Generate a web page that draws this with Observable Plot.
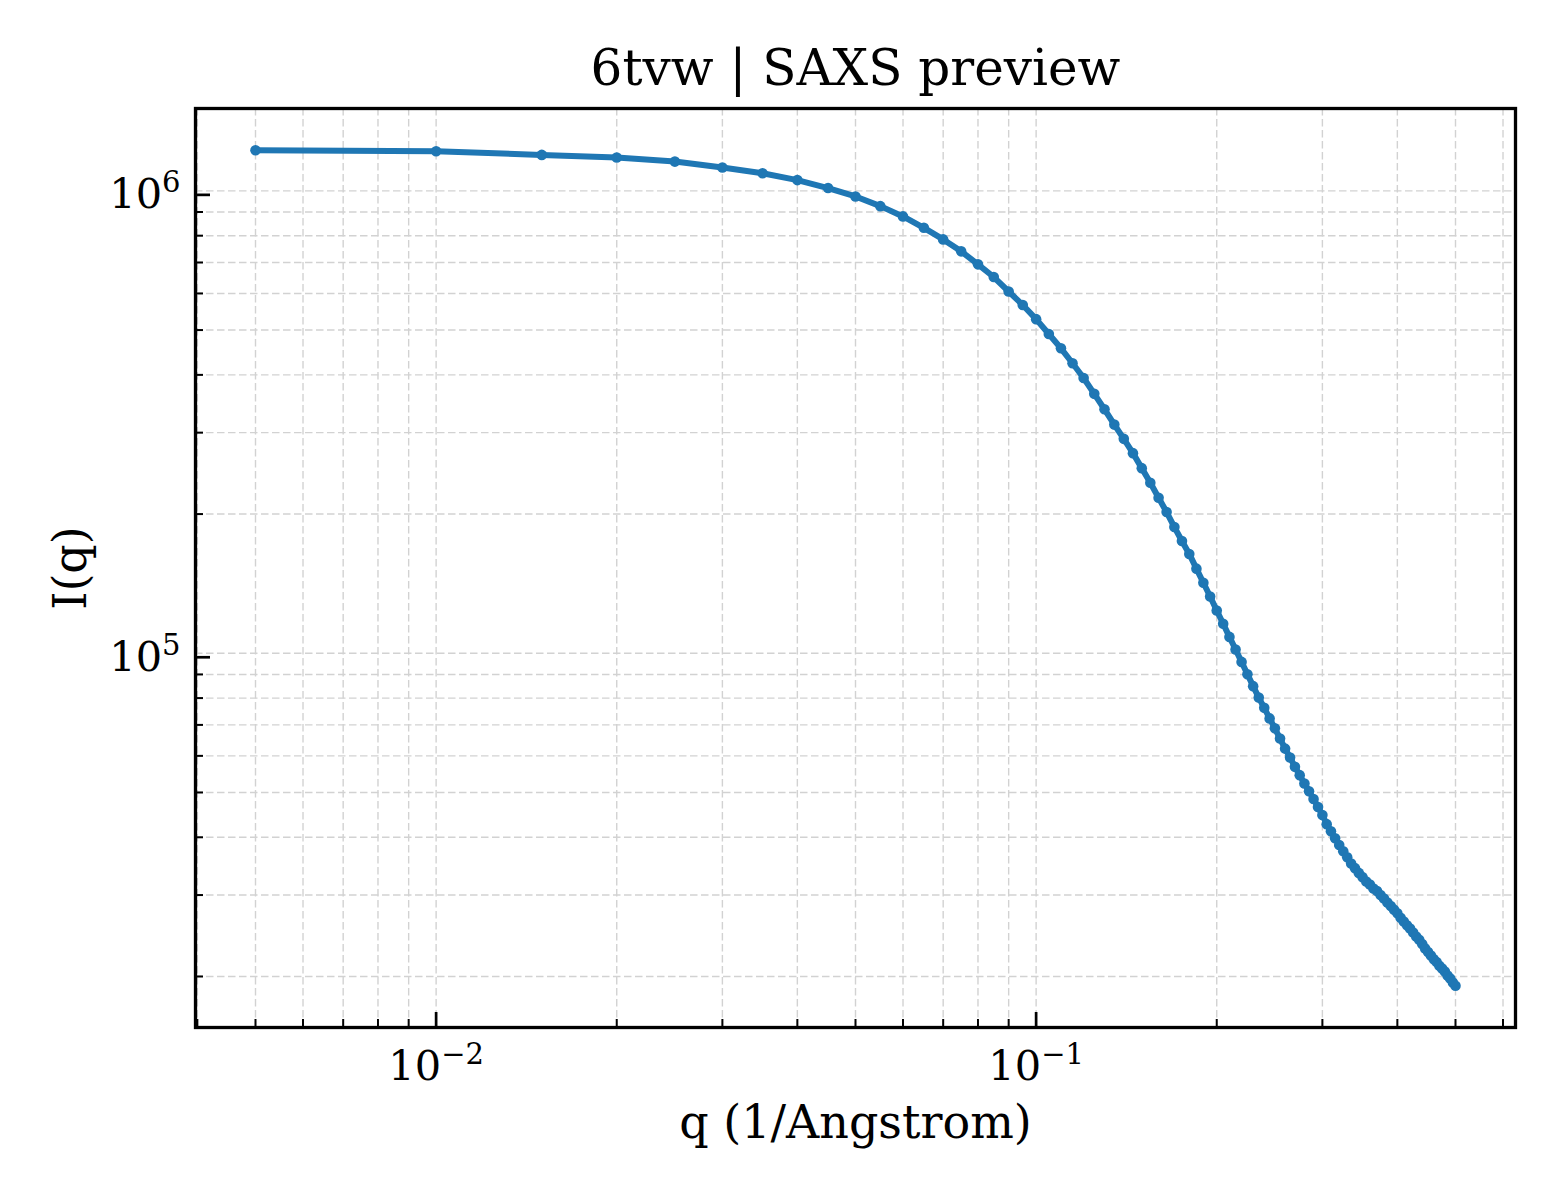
<!DOCTYPE html>
<html>
<head>
<meta charset="utf-8">
<script src="https://cdn.jsdelivr.net/npm/d3@7"></script>
<script src="https://cdn.jsdelivr.net/npm/@observablehq/plot@0.6"></script>
<style>
  html, body { margin: 0; padding: 0; background: #ffffff; }
  #chart { width: 1560px; height: 1200px; }
</style>
</head>
<body>
<div id="chart"></div>
<script>
const title = "6tvw | SAXS preview";
const xLabel = "q (1/Angstrom)";
const yLabel = "I(q)";

const q = [
  0.005, 0.010, 0.015, 0.020, 0.025, 0.030, 0.035, 0.040, 0.045, 0.050,
  0.055, 0.060, 0.065, 0.070, 0.075, 0.080, 0.085, 0.090, 0.095, 0.100,
  0.105, 0.110, 0.115, 0.120, 0.125, 0.130, 0.135, 0.140, 0.145, 0.150,
  0.155, 0.160, 0.165, 0.170, 0.175, 0.180, 0.185, 0.190, 0.195, 0.200,
  0.205, 0.210, 0.215, 0.220, 0.225, 0.230, 0.235, 0.240, 0.245, 0.250,
  0.255, 0.260, 0.265, 0.270, 0.275, 0.280, 0.285, 0.290, 0.295, 0.300,
  0.305, 0.310, 0.315, 0.320, 0.325, 0.330, 0.335, 0.340, 0.345, 0.350,
  0.355, 0.360, 0.365, 0.370, 0.375, 0.380, 0.385, 0.390, 0.395, 0.400,
  0.405, 0.410, 0.415, 0.420, 0.425, 0.430, 0.435, 0.440, 0.445, 0.450,
  0.455, 0.460, 0.465, 0.470, 0.475, 0.480, 0.485, 0.490, 0.495, 0.500
];

const intensity = [
  1224000, 1218000, 1196000, 1181000, 1157000, 1123000, 1092000, 1055000, 1014000, 972500,
  926800, 880600, 831900, 785300, 739900, 693500, 651100, 605800, 566400, 527900,
  490400, 456600, 423800, 393900, 363900, 337100, 312300, 290900, 270900, 251400,
  233700, 216900, 202000, 187500, 174900, 164000, 152400, 142100, 132700, 123700,
  115800, 108500, 101900, 95800, 90100, 84900, 80200, 76200, 72300, 68800,
  65400, 62200, 59500, 56800, 54500, 52300, 50300, 48400, 46500, 44700,
  42700, 41200, 39800, 38500, 37300, 36200, 35100, 34300, 33500, 32800,
  32100, 31600, 31000, 30600, 30000, 29500, 28900, 28400, 27900, 27400,
  26800, 26300, 25800, 25400, 24900, 24400, 24000, 23500, 23000, 22600,
  22200, 21800, 21500, 21100, 20800, 20500, 20100, 19800, 19400, 19100
];

const xMajorTicks = [0.01, 0.1];
const xTickLabels = ["10^\u22122", "10^\u22121"];
const yMajorTicks = [1e5, 1e6];
const yTickLabels = ["10^5", "10^6"];

const data = q.map((v, i) => ({q: v, I: intensity[i]}));

function logPadDomain(values, frac) {
  const [a, b] = d3.extent(values).map(Math.log10);
  const p = (b - a) * frac;
  return [Math.pow(10, a - p), Math.pow(10, b + p)];
}
const xDomain = logPadDomain(q, 0.05);
const yDomain = logPadDomain(intensity, 0.05);

const xGrid = d3.scaleLog().domain(xDomain).ticks();
const yGrid = d3.scaleLog().domain(yDomain).ticks();
const isMajor = (v) => Math.abs(Math.log10(v) - Math.round(Math.log10(v))) < 1e-9;
const xMinor = xGrid.filter(v => !isMajor(v));
const yMinor = yGrid.filter(v => !isMajor(v));

const blue = "#1f77b4";
const gridStyle = {stroke: "#d2d2d2", strokeWidth: 1.4, strokeDasharray: "7.5,3.5"};

const chart = Plot.plot({
  width: 1560,
  height: 1200,
  marginLeft: 195,
  marginRight: 45,
  marginTop: 108,
  marginBottom: 173,
  style: {fontFamily: "'DejaVu Serif', serif", background: "#ffffff", color: "#000000"},
  x: {type: "log", domain: xDomain, label: null},
  y: {type: "log", domain: yDomain, label: null},
  marks: [
    Plot.ruleX(xGrid, gridStyle),
    Plot.ruleY(yGrid, gridStyle),
    Plot.line(data, {x: "q", y: "I", stroke: blue, strokeWidth: 6}),
    Plot.dot(data, {x: "q", y: "I", r: 5.3, fill: blue, stroke: "none"}),
    Plot.axisX(xMinor, {anchor: "bottom", tickSize: -8, strokeWidth: 2, tickFormat: () => "", label: null}),
    Plot.axisX(xMajorTicks, {anchor: "bottom", tickSize: -15, tickPadding: 38, strokeWidth: 2.7,
      tickFormat: d => xTickLabels[xMajorTicks.indexOf(d)], fontSize: 41.5, label: null}),
    Plot.axisY(yMinor, {anchor: "left", tickSize: -8, strokeWidth: 2, tickFormat: () => "", label: null}),
    Plot.axisY(yMajorTicks, {anchor: "left", tickSize: -15, tickPadding: 30, strokeWidth: 2.7, dy: 4,
      tickFormat: d => yTickLabels[yMajorTicks.indexOf(d)], fontSize: 41.5, label: null}),
    Plot.frame({stroke: "#000000", strokeWidth: 3.3}),
    Plot.text([title], {text: d => d, frameAnchor: "top", dy: -40, fontSize: 50, lineAnchor: "middle", textAnchor: "middle"}),
    Plot.text([xLabel], {text: d => d, frameAnchor: "bottom", dy: 96, fontSize: 46, lineAnchor: "middle", textAnchor: "middle"}),
    Plot.text([yLabel], {text: d => d, frameAnchor: "left", dx: -124, rotate: -90, fontSize: 46, lineAnchor: "middle", textAnchor: "middle"})
  ]
});

// render exponents as superscripts
d3.select(chart).selectAll("text").each(function() {
  const t = this.textContent;
  const m = t.match(/^([^\^]*)\^(.+)$/);
  if (!m) return;
  const sel = d3.select(this);
  sel.text(null);
  sel.append("tspan").text(m[1]);
  sel.append("tspan").attr("dy", -16).attr("font-size", 29).text(m[2]);
});

document.getElementById("chart").appendChild(chart);
</script>
</body>
</html>
